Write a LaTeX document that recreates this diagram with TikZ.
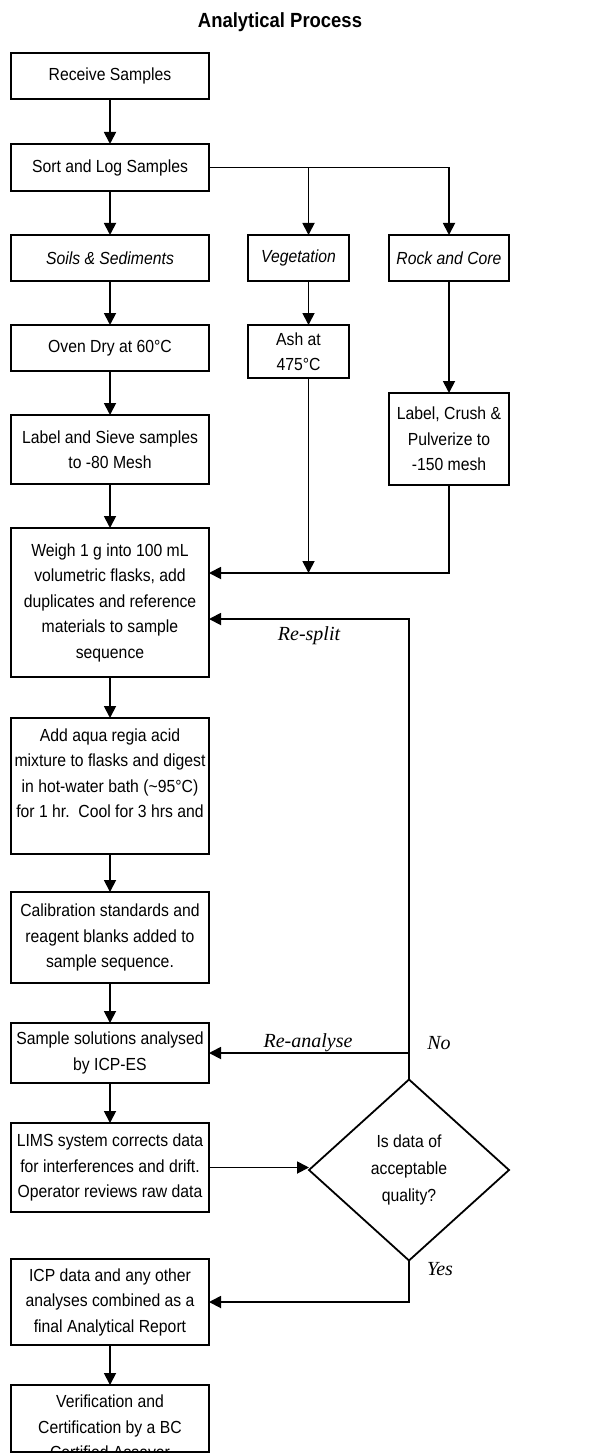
\documentclass[tikz,border=0pt]{standalone}
\usepackage{fontspec}
\setmainfont{Liberation Sans}[FakeStretch=0.9]
\newfontfamily\loopfont{Liberation Serif}
\usetikzlibrary{shapes,arrows,arrows.meta,positioning,calc}

\begin{document}
\begin{tikzpicture}[x=1pt, y=-1pt, node distance=44pt, line width=1.8pt,
    >={Triangle[length=12pt,width=12pt]},
    procbox/.style={rectangle, draw, minimum width=198pt, inner sep=2pt, outer sep=0pt, align=center, font=\fontsize{17.5}{25.5}\selectfont},
    sidebox/.style={procbox, minimum width=101pt},
    rockbox/.style={procbox, minimum width=120pt},
    decision/.style={diamond, draw, minimum width=200pt, minimum height=181pt, inner sep=0pt, outer sep=0pt, aspect=1.1, align=center, font=\fontsize{17.5}{27}\selectfont},
    looplabel/.style={font=\loopfont\itshape\fontsize{20}{24}\selectfont}]
    \useasboundingbox (0,0) rectangle (604,1455);
    \node[font=\bfseries\fontsize{20.5}{24}\selectfont] (title) at (280,22) {Analytical Process};

    \node[procbox, minimum height=46pt] (receive) at (110,76) {Receive Samples};
    \node[procbox, minimum height=47pt, below=45pt of receive] (sort) {Sort and Log Samples};
    \node[procbox, minimum height=46pt, below=of sort] (soils) {\itshape Soils \& Sediments};
    \node[sidebox, minimum height=46pt, right=39pt of soils] (veg) {\itshape Vegetation};
    \node[rockbox, minimum height=46pt, right=40pt of veg] (rock) {\itshape Rock and Core};
    \node[procbox, minimum height=46pt, below=of soils] (oven) {Oven Dry at 60°C};
    \node[sidebox, minimum height=53pt, below=of veg] (ash) {Ash at\\475°C};
    \node[rockbox, minimum height=92pt, below=112pt of rock] (crush) {Label, Crush \&\\Pulverize to\\-150 mesh};
    \node[procbox, minimum height=69pt, below=of oven] (sieve) {Label and Sieve samples\\to -80 Mesh};
    \node[procbox, minimum height=149pt, below=of sieve] (weigh) {Weigh 1 g into 100 mL\\volumetric flasks, add\\duplicates and reference\\materials to sample\\sequence};
    \node[procbox, minimum height=136pt, below=41pt of weigh] (digest) {Add aqua regia acid\\mixture to flasks and digest\\in hot-water bath (\textasciitilde95°C)\\for 1 hr.\ \ Cool for 3 hrs and\\\mbox{}};
    \node[procbox, minimum height=91pt, below=38pt of digest] (calib) {Calibration standards and\\reagent blanks added to\\sample sequence.};
    \node[procbox, minimum height=60pt, below=40pt of calib] (icpes) {Sample solutions analysed\\by ICP-ES};
    \node[procbox, minimum height=89pt, below=40pt of icpes] (lims) {LIMS system corrects data\\for interferences and drift.\\Operator reviews raw data};
    \node[decision] (quality) at (409,1170) {Is data of\\acceptable\\quality?};
    \node[procbox, minimum height=86pt, below=47pt of lims] (report) {ICP data and any other\\analyses combined as a\\final Analytical Report};
    \node[procbox, minimum height=67pt, below=40pt of report] (verify) {};
    % last box is cut off at the bottom
    \begin{scope}
        \clip (verify.south west) rectangle (verify.north east);
        \node[procbox, draw=none, below=8pt of verify.north] (verifytext) {Verification and\\Certification by a BC\\Certified Assayer};
    \end{scope}

    \draw[->] (receive) -- (sort);
    \draw[->] (sort) -- (soils);
    \draw[->] (sort.east) -| (rock.north);
    \draw[->] ([xshift=10pt]veg.north |- sort.east) -- ([xshift=10pt]veg.north);
    \draw[->] (soils) -- (oven);
    \draw[->] ([xshift=10pt]veg.south) -- ([xshift=10pt]ash.north);
    \draw[->] (rock) -- (crush);
    \draw[->] (oven) -- (sieve);
    \draw[->] (sieve) -- (weigh);

    \coordinate (merge) at ([yshift=29.5pt]weigh.east);
    \coordinate (resplit) at ([yshift=-16.5pt]weigh.east);
    \draw[->] (crush.south) |- (merge);
    \draw[->] ([xshift=10pt]ash.south) -- ([xshift=10pt]ash.south |- merge);

    \draw[->] (weigh) -- (digest);
    \draw[->] (digest) -- (calib);
    \draw[->] (calib) -- (icpes);
    \draw[->] (icpes) -- (lims);
    \draw[->] (lims.east) -- (lims.east -| quality.west);
    \draw[->] (quality.north) |- (resplit);
    \draw[->] (quality.north |- icpes.east) -- (icpes.east);
    \draw[->] (quality.south) |- (report.east);
    \draw[->] (report) -- (verify);

    \node[looplabel] (resplitlabel) at (309,636) {Re-split};
    \node[looplabel] (reanalyselabel) at (308,1043) {Re-analyse};
    \node[looplabel] (nolabel) at (439,1043) {No};
    \node[looplabel] (yeslabel) at (440,1269) {Yes};
\end{tikzpicture}
\end{document}
